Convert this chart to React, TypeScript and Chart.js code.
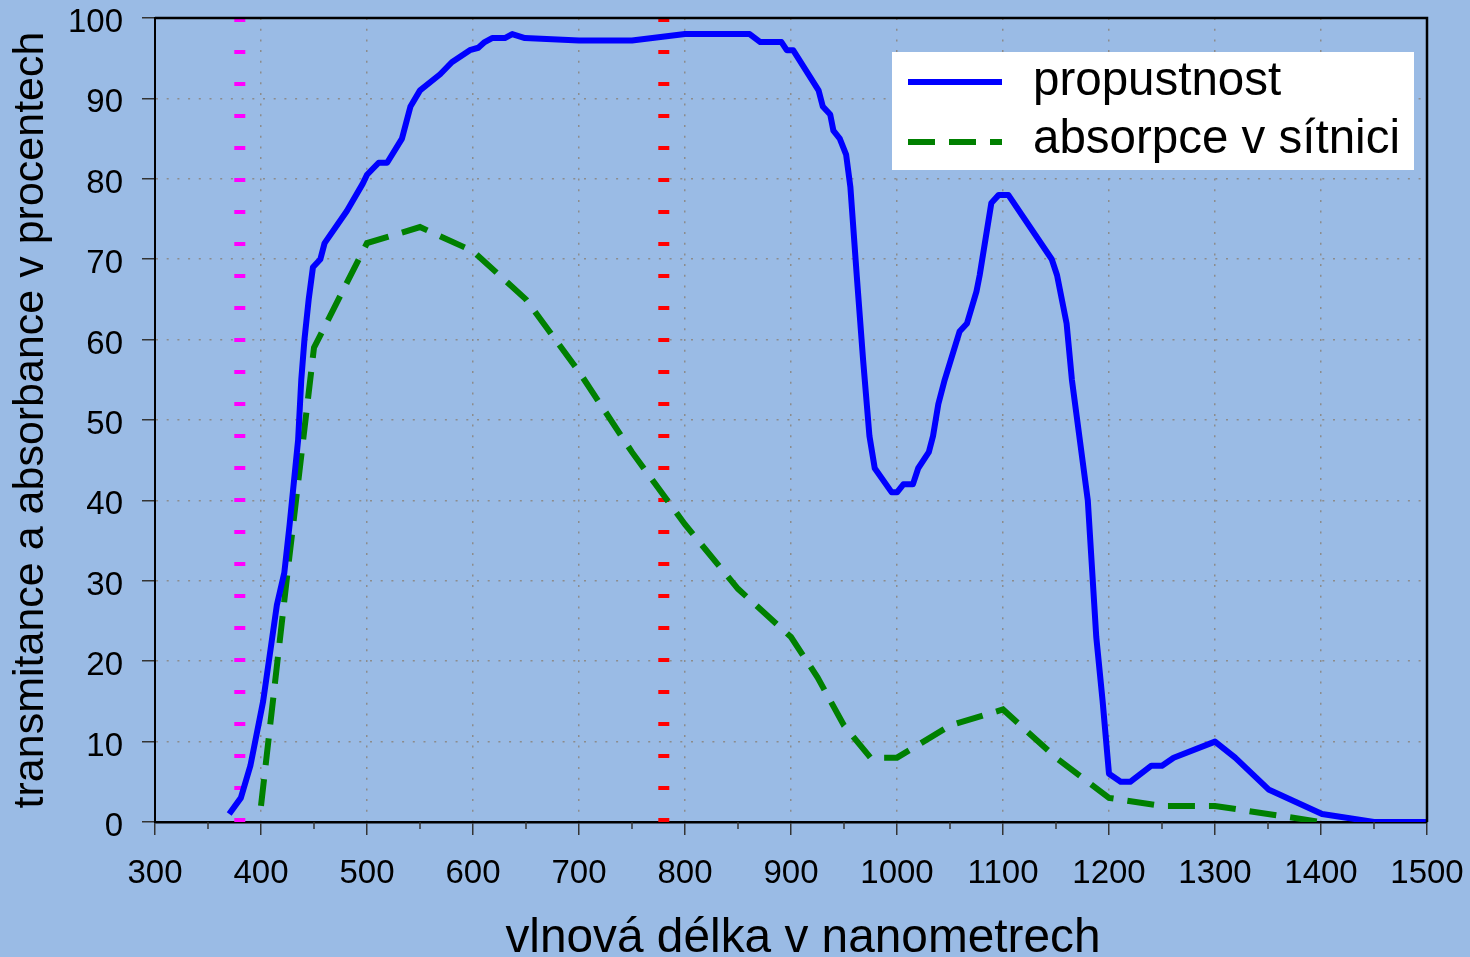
import React, { useEffect, useRef } from "react";
import { Chart, registerables } from "chart.js";

Chart.register(...registerables);

// ---- data ----
const transX = [370, 381, 390, 402, 415, 422, 427, 435, 438, 441, 445, 449, 456, 460, 481, 496, 500, 511, 519, 533, 541, 550, 569, 580, 597, 605, 611, 618, 630, 637, 649, 700, 750, 800, 861, 871, 891, 896, 902, 926, 930, 937, 940, 946, 952, 956, 962, 968, 974, 979, 995, 1000, 1006, 1015, 1020, 1030, 1034, 1039, 1045, 1059, 1066, 1075, 1078, 1089, 1096, 1105, 1146, 1151, 1160, 1165, 1180, 1188, 1194, 1200, 1211, 1220, 1240, 1250, 1261, 1300, 1319, 1351, 1401, 1450, 1500];
const transY = [1, 3, 7, 15, 27, 31, 37, 47.5, 55, 60, 65, 69, 70, 72, 76, 79.4, 80.5, 82, 82, 85, 89, 91, 93, 94.5, 96, 96.3, 97, 97.5, 97.5, 98, 97.5, 97.2, 97.2, 98, 98, 97, 97, 96, 96, 91, 89, 88, 86, 85, 83, 79, 68, 57.5, 48, 44, 41, 41, 42, 42, 44, 46, 48, 52, 55, 61, 62, 66, 68, 77, 78, 78, 70, 68, 62, 55, 40, 23, 15, 6, 5, 5, 7, 7, 8, 10, 8, 4, 1, 0, 0];

const absX = [400, 425, 450, 500, 550, 600, 650, 700, 750, 800, 850, 900, 925, 950, 975, 1000, 1050, 1100, 1150, 1200, 1250, 1300, 1400];
const absY = [2, 31, 59, 72, 74, 71, 65, 56, 46, 37, 29, 23, 18, 12, 8, 8, 12, 14, 8, 3, 2, 2, 0];

const visibleLimitsX = [380, 780];
const limitLineY = [100, 0];

const seriesNames = ["propustnost", "absorpce v sítnici"];
const xTitle = "vlnová délka v nanometrech";
const yTitle = "transmitance a absorbance v procentech";
const xRange = [300, 1500];
const yRange = [0, 100];

// ---- styles ----
const BG = "#9abbe5";
const BLUE = "#0000ff";
const GREEN = "#008000";
const FONT = "'Liberation Sans', Arial, sans-serif";
const GREEN_DASH = [27, 14];

const pts = (xs: number[], ys: number[]) => xs.map((x, i) => ({ x, y: ys[i] }));

const framePlugin = {
  id: "frame",
  beforeDraw(chart: any) {
    const { ctx, width, height } = chart;
    ctx.save();
    ctx.fillStyle = BG;
    ctx.fillRect(0, 0, width, height);
    ctx.restore();
  },
  afterDraw(chart: any) {
    const { ctx, chartArea: ca, scales } = chart;
    ctx.save();
    // top and right border
    ctx.strokeStyle = "#000";
    ctx.lineWidth = 2.5;
    ctx.beginPath();
    ctx.moveTo(ca.left, ca.top);
    ctx.lineTo(ca.right, ca.top);
    ctx.lineTo(ca.right, ca.bottom);
    ctx.stroke();
    // minor x ticks
    ctx.strokeStyle = "#333";
    ctx.lineWidth = 1.5;
    for (let v = xRange[0] + 50; v < xRange[1]; v += 100) {
      const px = scales.x.getPixelForValue(v);
      ctx.beginPath();
      ctx.moveTo(px, ca.bottom);
      ctx.lineTo(px, ca.bottom + 7);
      ctx.stroke();
    }
    // x axis title
    ctx.fillStyle = "#000";
    ctx.font = `47.8px ${FONT}`;
    ctx.textAlign = "center";
    ctx.textBaseline = "alphabetic";
    ctx.fillText(xTitle, (ca.left + ca.right) / 2 + 12, ca.bottom + 130);
    // legend
    const lx = ca.right - 535;
    const ly = ca.top + 34;
    ctx.fillStyle = "#fff";
    ctx.fillRect(lx, ly, 522, 118);
    ctx.lineCap = "butt";
    ctx.lineWidth = 6;
    ctx.strokeStyle = BLUE;
    ctx.setLineDash([]);
    ctx.beginPath();
    ctx.moveTo(lx + 16, ly + 30);
    ctx.lineTo(lx + 110, ly + 30);
    ctx.stroke();
    ctx.strokeStyle = GREEN;
    ctx.setLineDash(GREEN_DASH);
    ctx.beginPath();
    ctx.moveTo(lx + 16, ly + 90);
    ctx.lineTo(lx + 110, ly + 90);
    ctx.stroke();
    ctx.setLineDash([]);
    ctx.fillStyle = "#000";
    ctx.font = `47.5px ${FONT}`;
    ctx.textBaseline = "middle";
    ctx.textAlign = "left";
    ctx.fillText(seriesNames[0], lx + 141, ly + 30);
    ctx.fillText(seriesNames[1], lx + 141, ly + 88);
    ctx.restore();
  },
};

export default function App() {
  const ref = useRef<HTMLCanvasElement | null>(null);
  useEffect(() => {
    document.body.style.margin = "0";
    document.body.style.background = BG;
    const canvas = ref.current!;
    const chart = new Chart(canvas, {
      type: "line",
      data: {
        datasets: [
          {
            label: seriesNames[0],
            data: pts(transX, transY),
            borderColor: BLUE,
            borderWidth: 6,
            pointRadius: 0,
            tension: 0,
            fill: false,
            order: 0,
            borderJoinStyle: "round",
          },
          {
            label: seriesNames[1],
            data: pts(absX, absY),
            borderColor: GREEN,
            borderWidth: 6,
            borderDash: GREEN_DASH,
            pointRadius: 0,
            tension: 0,
            fill: false,
            order: 0,
          },
          {
            label: "uv",
            data: pts([visibleLimitsX[0], visibleLimitsX[0]], limitLineY),
            borderColor: "#ff00ff",
            borderWidth: 11,
            borderDash: [4, 28],
            borderCapStyle: "butt",
            pointRadius: 0,
            order: 1,
          },
          {
            label: "ir",
            data: pts([visibleLimitsX[1], visibleLimitsX[1]], limitLineY),
            borderColor: "#ff0000",
            borderWidth: 11,
            borderDash: [4, 28],
            borderCapStyle: "butt",
            pointRadius: 0,
            order: 1,
          },
        ],
      },
      options: {
        responsive: false,
        animation: false,
        layout: { padding: { left: 0, top: 18, right: 43, bottom: 0 } },
        plugins: { legend: { display: false }, tooltip: { enabled: false } },
        scales: {
          x: {
            type: "linear",
            min: xRange[0],
            max: xRange[1],
            afterFit: (s: any) => {
              s.height = 135;
              s.paddingLeft = 0;
              s.paddingRight = 0;
            },
            ticks: {
              stepSize: 100,
              font: { family: FONT, size: 33 },
              color: "#000",
              padding: 19,
              maxRotation: 0,
              autoSkip: false,
              callback: (v: any) => String(v),
            },
            grid: {
              color: "#8c8c8c",
              lineWidth: 1.5,
              tickColor: "#333",
              tickLength: 13,
              tickWidth: 1.5,
            },
            border: { display: true, color: "#000", width: 2.5, dash: [2, 8.7] },
            title: { display: false },
          },
          y: {
            type: "linear",
            min: yRange[0],
            max: yRange[1],
            afterFit: (s: any) => {
              s.width = 155;
              s.paddingTop = 0;
              s.paddingBottom = 0;
            },
            ticks: {
              stepSize: 10,
              font: { family: FONT, size: 33 },
              color: "#000",
              padding: 19,
              labelOffset: 5,
              callback: (v: any) => String(v),
            },
            grid: {
              color: "#8c8c8c",
              lineWidth: 1.5,
              tickColor: "#333",
              tickLength: 13,
              tickWidth: 1.5,
            },
            border: { display: true, color: "#000", width: 2, dash: [2, 8.7] },
            title: {
              display: true,
              text: yTitle,
              font: { family: FONT, size: 43, lineHeight: 1 },
              color: "#000",
              padding: { top: 10, bottom: 0 },
            },
          },
        },
      },
      plugins: [framePlugin],
    } as any);
    return () => chart.destroy();
  }, []);
  return <canvas ref={ref} width={1470} height={957} style={{ display: "block" }} />;
}
